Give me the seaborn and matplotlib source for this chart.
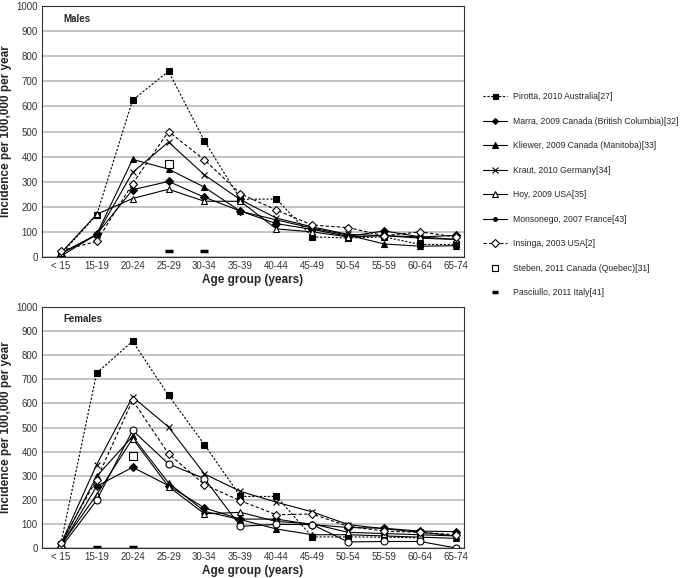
import numpy as np
import pandas as pd
import matplotlib
matplotlib.use("Agg")
import matplotlib.pyplot as plt
from matplotlib.lines import Line2D
from matplotlib.ticker import MultipleLocator
import seaborn as sns

nan = np.nan
ages = ["< 15", "15-19", "20-24", "25-29", "30-34", "35-39",
        "40-44", "45-49", "50-54", "55-59", "60-64", "65-74"]

studies = ["Pirotta, 2010 Australia[27]",
           "Marra, 2009 Canada (British Columbia)[32]",
           "Kliewer, 2009 Canada (Manitoba)[33]",
           "Kraut, 2010 Germany[34]",
           "Hoy, 2009 USA[35]",
           "Monsonego, 2007 France[43]",
           "Insinga, 2003 USA[2]",
           "Steben, 2011 Canada (Quebec)[31]",
           "Pasciullo, 2011 Italy[41]"]

# males
pirotta_m = [10, 167, 625, 740, 462, 230, 231, 80, 76, 80, 50, 50]
marra_m = [3, 90, 268, 301, 238, 183, 133, 110, 82, 104, 80, 86]
kliewer_m = [12, 90, 389, 350, 278, 182, 148, 115, 87, 52, 43, 45]
kraut_m = [15, 88, 337, 458, 327, 228, 155, 120, 90, 85, 75, 70]
hoy_m = [15, 170, 233, 270, 222, 222, 112, 100, 80, 85, 80, 70]
monsonego_m = [nan] * 12
insinga_m = [25, 62, 292, 500, 387, 252, 187, 127, 117, 85, 100, 80]
steben_m = [nan, nan, nan, 372, nan, nan, nan, nan, nan, nan, nan, nan]
pasciullo_m = [nan, nan, nan, 25, 25, nan, nan, nan, nan, nan, nan, nan]

# females
pirotta_f = [15, 726, 858, 633, 429, 214, 214, 46, 46, 45, 42, nan]
marra_f = [5, 256, 335, 259, 166, 120, 120, 97, 85, 82, 70, 68]
kliewer_f = [10, 297, 463, 270, 152, 118, 79, 55, 55, 50, 45, 40]
kraut_f = [15, 346, 627, 502, 307, 235, 190, 150, 97, 80, 65, 50]
hoy_f = [10, 221, 454, 255, 142, 148, 110, 100, 65, 60, 55, 50]
monsonego_f = [0, 198, 488, 349, 288, 90, 98, 97, 25, 27, 27, 0]
insinga_f = [20, 284, 613, 391, 263, 196, 138, 141, 90, 70, 65, 55]
steben_f = [nan, nan, 380, nan, nan, nan, nan, nan, nan, nan, nan, nan]
pasciullo_f = [nan, 3, 3, nan, nan, nan, nan, nan, nan, nan, nan, nan]

males = [pirotta_m, marra_m, kliewer_m, kraut_m, hoy_m, monsonego_m,
         insinga_m, steben_m, pasciullo_m]
females = [pirotta_f, marra_f, kliewer_f, kraut_f, hoy_f, monsonego_f,
           insinga_f, steben_f, pasciullo_f]

# line / marker style per study
styles = [
    dict(ls=(0, (2, 1.5)), marker="s", mfc="black", ms=4.5),
    dict(ls="-", marker="D", mfc="black", ms=3.8),
    dict(ls="-", marker="^", mfc="black", ms=5),
    dict(ls="-", marker="x", mfc="black", ms=5),
    dict(ls="-", marker="^", mfc="white", ms=5),
    dict(ls="-", marker="o", mfc="white", ms=5),
    dict(ls=(0, (3, 2)), marker="D", mfc="white", ms=4.5),
    dict(ls="none", marker="s", mfc="white", ms=6),
    dict(ls="none", marker="_", mfc="black", ms=6),
]

sns.set_style("white")
plt.rcParams["font.family"] = ["Liberation Sans", "DejaVu Sans"]

fig = plt.figure(figsize=(6.85, 5.78), dpi=100)
ax_m = fig.add_axes([42 / 685, 1 - 257 / 578, 422 / 685, 251 / 578])
ax_f = fig.add_axes([42 / 685, 1 - 548 / 578, 422 / 685, 241 / 578])

x = np.arange(len(ages))
for ax, data, title in [(ax_m, males, "Males"), (ax_f, females, "Females")]:
    for name, vals, st in zip(studies, data, styles):
        df = pd.DataFrame({"age": x, "value": vals}).dropna()
        if df.empty:
            continue
        sns.lineplot(data=df, x="age", y="value", ax=ax, color="black",
                     linewidth=0.8, linestyle=st["ls"], marker=st["marker"],
                     markersize=st["ms"], markerfacecolor=st["mfc"],
                     markeredgecolor="black",
                     markeredgewidth=2.5 if st["marker"] == "_" else 0.8,
                     label=None)
    ax.set_xlim(-0.52, 11.22)
    ax.set_ylim(0, 1000)
    ax.yaxis.set_major_locator(MultipleLocator(100))
    ax.set_xticks(x)
    ax.set_xticklabels(ages)
    ax.set_xticks(x[:-1] + 0.5, minor=True)
    ax.grid(axis="y", color="#b4b4b4", linewidth=1.1)
    ax.set_axisbelow(True)
    ax.tick_params(axis="both", which="major", length=0, labelsize=7,
                   labelcolor="#333333", pad=3)
    ax.tick_params(axis="x", which="minor", direction="in", length=3,
                   color="#555555", width=0.6)
    for s in ax.spines.values():
        s.set_visible(True)
        s.set_color("#333333")
        s.set_linewidth(0.8)
    ax.set_xlabel("Age group (years)", fontsize=8.5, fontweight="bold",
                  labelpad=2)
    ax.set_ylabel("Incidence per 100,000 per year", fontsize=8.5,
                  fontweight="bold", labelpad=3)
    ax.text(0.05, 0.95, title, transform=ax.transAxes, fontsize=7,
            fontweight="bold", va="center", ha="left")

handles = []
for i, st in enumerate(styles):
    if i == 5:
        handles.append(Line2D([], [], color="black", lw=0.8, ls="-",
                              marker="o", ms=2.5, mfc="black"))
    else:
        handles.append(Line2D([], [], color="black", lw=0.8, ls=st["ls"],
                              marker=st["marker"], ms=st["ms"] * 0.8,
                              mfc=st["mfc"], mec="black",
                              mew=2.5 if st["marker"] == "_" else 0.8))
fig.legend(handles, studies, loc="upper left",
           bbox_to_anchor=(479 / 685, 1 - 88 / 578), frameon=False,
           fontsize=6.2, labelspacing=1.8, handlelength=2.7,
           handletextpad=0.8, borderpad=0)

fig.savefig("out.png", dpi=100)
plt.close(fig)
